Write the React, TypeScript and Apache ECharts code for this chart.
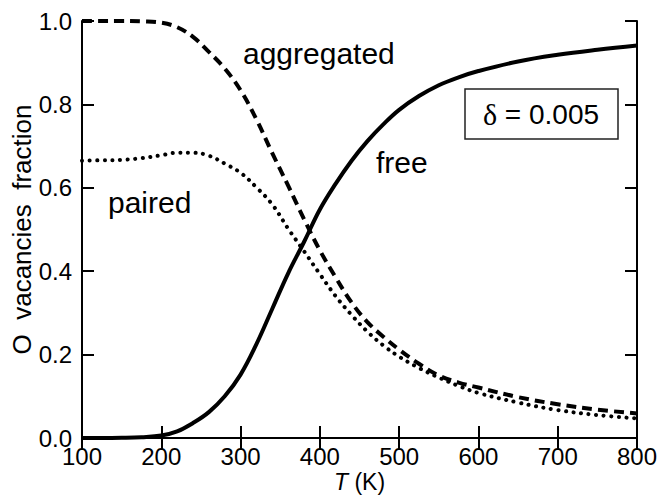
import React, { useEffect, useRef } from "react";
import * as echarts from "echarts";

const temps = [100, 125, 150, 175, 200, 220, 240, 260, 280, 300, 320, 340, 360, 380, 400, 420, 440, 460, 480, 500, 525, 550, 575, 600, 650, 700, 750, 800];
const freeVals = [0, 0, 0.0005, 0.002, 0.006, 0.016, 0.036, 0.062, 0.1, 0.152, 0.225, 0.31, 0.395, 0.47, 0.548, 0.61, 0.665, 0.712, 0.752, 0.787, 0.82, 0.846, 0.865, 0.88, 0.903, 0.919, 0.931, 0.941];
const aggregatedVals = [1.0, 1.0, 1.0, 0.999, 0.996, 0.985, 0.962, 0.926, 0.886, 0.834, 0.764, 0.683, 0.605, 0.525, 0.45, 0.385, 0.325, 0.278, 0.243, 0.212, 0.178, 0.15, 0.133, 0.121, 0.098, 0.081, 0.068, 0.059];
const pairedVals = [0.665, 0.666, 0.667, 0.671, 0.678, 0.684, 0.684, 0.677, 0.658, 0.636, 0.601, 0.56, 0.502, 0.448, 0.393, 0.34, 0.295, 0.255, 0.222, 0.195, 0.168, 0.145, 0.125, 0.108, 0.085, 0.067, 0.055, 0.047];
const xTicks = { min: 100, max: 800, step: 100 };
const yTicks = { min: 0, max: 1, step: 0.2 };
const labels = { aggregated: "aggregated", free: "free", paired: "paired", delta: "0.005" };

const FONT = '"Liberation Sans", Arial, Helvetica, sans-serif';

export default function App() {
  const ref = useRef<HTMLDivElement>(null);
  useEffect(() => {
    if (!ref.current) return;
    const chart = echarts.init(ref.current, undefined, { renderer: "svg" });
    const pair = (vals: number[]) => temps.map((t, i) => [t, vals[i]]);
    const axisLine = { show: true, lineStyle: { color: "#000", width: 2 } };
    const axisTick = { show: true, inside: true, length: 12, lineStyle: { color: "#000", width: 2 } };
    chart.setOption({
      animation: false,
      backgroundColor: "#fff",
      grid: { left: 82, right: 35, top: 21, bottom: 57, containLabel: false, outerBoundsMode: "none" },
      xAxis: [
        {
          type: "value", position: "bottom", min: xTicks.min, max: xTicks.max, interval: xTicks.step,
          axisLine, axisTick, splitLine: { show: false },
          axisLabel: { fontSize: 24, color: "#000", fontFamily: FONT, margin: 6 },
          name: "{i|T}{n| (K)}", nameLocation: "middle", nameGap: 33, nameMoveOverlap: false,
          nameTextStyle: {
            fontSize: 23, color: "#000", fontFamily: FONT, lineHeight: 22,
            rich: {
              i: { fontStyle: "italic", fontSize: 23, fontFamily: FONT, color: "#000", lineHeight: 22 },
              n: { fontSize: 23, fontFamily: FONT, color: "#000", lineHeight: 22 },
            },
          },
        },
        {
          type: "value", position: "top", min: xTicks.min, max: xTicks.max, interval: xTicks.step,
          axisLine, axisTick, splitLine: { show: false }, axisLabel: { show: false },
        },
      ],
      yAxis: [
        {
          type: "value", position: "left", min: yTicks.min, max: yTicks.max, interval: yTicks.step,
          axisLine, axisTick, splitLine: { show: false },
          axisLabel: { fontSize: 24, color: "#000", fontFamily: FONT, margin: 10, formatter: (v: number) => v.toFixed(1) },
          name: "O  vacancies  fraction", nameLocation: "middle", nameGap: 47, nameRotate: 90, nameMoveOverlap: false,
          nameTextStyle: { fontSize: 26, color: "#000", fontFamily: FONT },
        },
        {
          type: "value", position: "right", min: yTicks.min, max: yTicks.max, interval: yTicks.step,
          axisLine, axisTick, splitLine: { show: false }, axisLabel: { show: false },
        },
      ],
      series: [
        {
          name: "free", type: "line", smooth: 0.4, showSymbol: false, data: pair(freeVals),
          lineStyle: { color: "#000", width: 4 }, z: 3,
        },
        {
          name: "aggregated", type: "line", smooth: 0.4, showSymbol: false, data: pair(aggregatedVals),
          lineStyle: { color: "#000", width: 4, type: [10, 6] }, z: 2,
        },
        {
          name: "paired", type: "line", smooth: 0.4, showSymbol: false, data: pair(pairedVals),
          lineStyle: { color: "#000", width: 4, type: [0.1, 7.5], cap: "round" }, z: 2,
        },
      ],
      graphic: [
        { type: "text", x: 243, y: 53, style: { text: labels.aggregated, font: `30px ${FONT}`, fill: "#000", align: "left", verticalAlign: "middle" } },
        { type: "text", x: 376, y: 162, style: { text: labels.free, font: `30px ${FONT}`, fill: "#000", align: "left", verticalAlign: "middle" } },
        { type: "text", x: 108, y: 202, style: { text: labels.paired, font: `30px ${FONT}`, fill: "#000", align: "left", verticalAlign: "middle" } },
        { type: "rect", shape: { x: 465, y: 89, width: 153, height: 50 }, style: { fill: "#fff", stroke: "#222", lineWidth: 1.5 } },
        {
          type: "text", x: 541, y: 114,
          style: {
            text: `{d|δ} = ${labels.delta}`, font: `28px ${FONT}`, fill: "#000", align: "center", verticalAlign: "middle",
            rich: { d: { fontFamily: '"Liberation Serif", "DejaVu Serif", serif', fontSize: 30, fill: "#000" } },
          },
        },
      ],
    });
    return () => chart.dispose();
  }, []);
  return <div ref={ref} style={{ position: "fixed", left: 0, top: 0, width: 672, height: 495 }} />;
}
